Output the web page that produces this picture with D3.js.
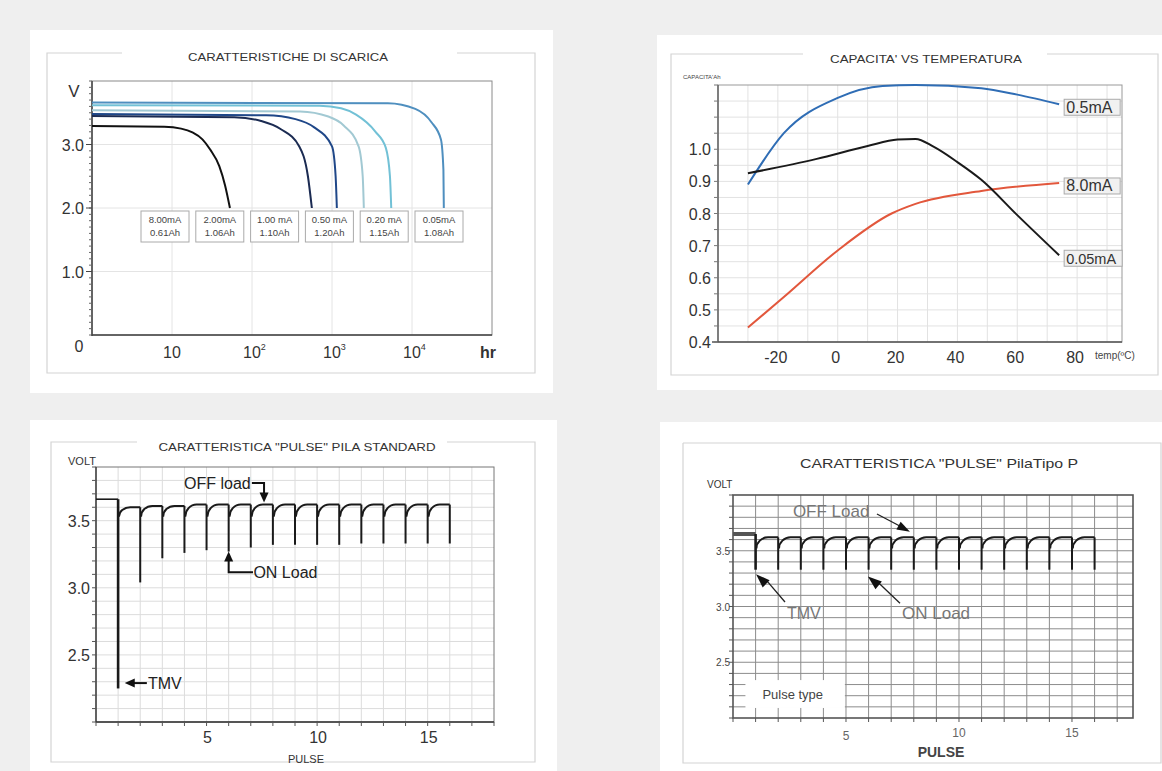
<!DOCTYPE html>
<html>
<head>
<meta charset="utf-8">
<script src="https://d3js.org/d3.v7.min.js"></script>
<title>Caratteristiche pila</title>
<style>
body { margin: 0; background: #efefef; }
svg { display: block; font-family: "Liberation Sans", Arial, sans-serif; }
</style>
</head>
<body>
<svg width="1162" height="771"></svg>
<script>

// ---- top left: discharge curves, [hours, volt] ----
const dischargeCurrent = ["8.00mA", "2.00mA", "1.00 mA", "0.50 mA", "0.20 mA", "0.05mA"];
const dischargeCapacity = ["0.61Ah", "1.06Ah", "1.10Ah", "1.20Ah", "1.15Ah", "1.08Ah"];
const discharge8mA = [[1, 3.29], [8, 3.28], [13, 3.25], [18, 3.19], [24, 3.08], [30, 2.92], [39, 2.66], [46, 2.36], [53, 2.0]];
const discharge2mA = [[1, 3.45], [60, 3.43], [130, 3.37], [230, 3.24], [390, 2.97], [500, 2.5], [560, 2.0]];
const discharge1mA = [[1, 3.48], [150, 3.46], [350, 3.4], [600, 3.27], [1000, 2.97], [1110, 2.5], [1150, 2.0]];
const discharge05mA = [[1, 3.54], [400, 3.52], [900, 3.44], [1400, 3.3], [2150, 2.97], [2420, 2.5], [2500, 2.0]];
const discharge02mA = [[1, 3.62], [700, 3.61], [1300, 3.57], [2000, 3.47], [3500, 3.2], [4700, 2.95], [5300, 2.5], [5500, 2.0]];
const discharge005mA = [[1, 3.66], [5000, 3.65], [11000, 3.56], [17500, 3.35], [23000, 3.08], [24700, 2.6], [25000, 2.0]];
const hourTicks = [10, 100, 1000, 10000];
const hourLabels = ["10", "10", "10", "10"];
const hourPowers = ["", "2", "3", "4"];
const voltTicks1 = [1, 2, 3];

// ---- top right: capacity (Ah) vs temperature (C) ----
const tempTicks = [-20, 0, 20, 40, 60, 80];
const capTicks = [0.4, 0.5, 0.6, 0.7, 0.8, 0.9, 1.0];
const cap05mA = [[-30, 0.89], [-18, 1.05], [0, 1.16], [15, 1.197], [26, 1.2], [48, 1.19], [60, 1.17], [74, 1.14]];
const cap8mA = [[-30, 0.445], [-18, 0.54], [0, 0.685], [18, 0.8], [26, 0.83], [48, 0.87], [74, 0.895]];
const cap005mA = [[-30, 0.925], [-7, 0.97], [10, 1.01], [20, 1.03], [26, 1.032], [32, 1.008], [40, 0.96], [48, 0.905], [60, 0.795], [74, 0.67]];
const capNames = ["0.5mA", "8.0mA", "0.05mA"];

// ---- bottom left: pulse, standard cell (volt per pulse) ----
const stdRest = 3.66;
const stdMin = [2.25, 3.04, 3.22, 3.26, 3.28, 3.27, 3.30, 3.32, 3.32, 3.32, 3.32, 3.33, 3.33, 3.33, 3.33, 3.33];
const stdRecover = [3.53, 3.53, 3.53, 3.53, 3.53, 3.53, 3.53, 3.53, 3.53, 3.53, 3.53, 3.53, 3.53, 3.53, 3.53];
const stdPeak = [3.60, 3.61, 3.61, 3.62, 3.62, 3.62, 3.62, 3.62, 3.62, 3.62, 3.62, 3.62, 3.62, 3.62, 3.62];
const stdVoltTicks = [3.5, 3.0, 2.5];

// ---- bottom right: pulse, type P ----
const typeRest = 3.65;
const typeMin = [3.33, 3.33, 3.33, 3.33, 3.33, 3.33, 3.33, 3.33, 3.33, 3.33, 3.33, 3.33, 3.33, 3.33, 3.33, 3.33];
const typeRecover = [3.52, 3.52, 3.52, 3.52, 3.52, 3.52, 3.52, 3.52, 3.52, 3.52, 3.52, 3.52, 3.52, 3.52, 3.52];
const typePeak = [3.62, 3.62, 3.62, 3.62, 3.62, 3.62, 3.62, 3.62, 3.62, 3.62, 3.62, 3.62, 3.62, 3.62, 3.62];
const pulseTicks = [5, 10, 15];

const svg = d3.select("svg");
svg.append("rect").attr("width", 1162).attr("height", 771).attr("fill", "#efefef");

// white cards
[[30, 30, 523, 363], [657, 35, 505, 355], [30, 420, 527, 351], [660, 422, 502, 349]].forEach(c => {
  svg.append("rect").attr("x", c[0]).attr("y", c[1]).attr("width", c[2]).attr("height", c[3]).attr("fill", "#fff");
});

function frame(x0, y0, x1, y1, gap0, gap1) {
  svg.append("path")
    .attr("d", `M${gap1},${y0}H${x1}V${y1}H${x0}V${y0}H${gap0}`)
    .attr("fill", "none").attr("stroke", "#d4d4d4").attr("stroke-width", 1.2);
}

function title(txt, cx, y, size, len) {
  svg.append("text").attr("x", cx).attr("y", y).attr("text-anchor", "middle")
    .attr("font-size", size).attr("fill", "#333")
    .attr("textLength", len).attr("lengthAdjust", "spacingAndGlyphs").text(txt);
}

function gridLines(g, vals, x, y, vertical, color) {
  g.selectAll(null).data(vals).join("line")
    .attr("x1", d => vertical ? x(d) : x.range()[0])
    .attr("x2", d => vertical ? x(d) : x.range()[1])
    .attr("y1", d => vertical ? y.range()[0] : y(d))
    .attr("y2", d => vertical ? y.range()[1] : y(d))
    .attr("stroke", color).attr("stroke-width", 1);
}

function ticksLeft(g, vals, x, y, len, color) {
  g.selectAll(null).data(vals).join("line")
    .attr("x1", x.range()[0] - len).attr("x2", x.range()[0])
    .attr("y1", d => y(d)).attr("y2", d => y(d))
    .attr("stroke", color).attr("stroke-width", 1);
}

function ticksBottom(g, vals, x, y, len, color) {
  g.selectAll(null).data(vals).join("line")
    .attr("x1", d => x(d)).attr("x2", d => x(d))
    .attr("y1", y.range()[0]).attr("y2", y.range()[0] + len)
    .attr("stroke", color).attr("stroke-width", 1);
}

function arrowHead(g, xt, yt, xf, yf, len, wid) {
  const a = Math.atan2(yt - yf, xt - xf);
  const bx = xt - len * Math.cos(a), by = yt - len * Math.sin(a);
  const nx = -Math.sin(a) * wid / 2, ny = Math.cos(a) * wid / 2;
  g.append("path").attr("d", `M${xt},${yt}L${bx + nx},${by + ny}L${bx - nx},${by - ny}Z`).attr("fill", "#111");
}

// ================= top left =================
frame(47, 53, 535, 373, 122, 457);
title("CARATTERISTICHE DI SCARICA", 288, 61, 11, 200);
const g1 = svg.append("g");
const x1 = d3.scaleLog().domain([1, 1e5]).range([92, 492]);
const y1 = d3.scaleLinear().domain([0, 4]).range([335, 81]);
gridLines(g1, hourTicks, x1, y1, true, "#e4e4e4");
gridLines(g1, voltTicks1, x1, y1, false, "#e4e4e4");
g1.append("rect").attr("x", 92).attr("y", 81).attr("width", 400).attr("height", 254)
  .attr("fill", "none").attr("stroke", "#8a8a8a");
g1.append("line").attr("x1", 92).attr("x2", 92).attr("y1", 81).attr("y2", 336).attr("stroke", "#444").attr("stroke-width", 1.5);
g1.append("line").attr("x1", 91).attr("x2", 492).attr("y1", 335).attr("y2", 335).attr("stroke", "#444").attr("stroke-width", 1.5);
ticksLeft(g1, d3.range(0, 41).map(i => i / 10), x1, y1, 3, "#666");
ticksLeft(g1, voltTicks1, x1, y1, 6, "#444");

const dischargeSeries = [discharge8mA, discharge2mA, discharge1mA, discharge05mA, discharge02mA, discharge005mA];
const dischargeColors = ["#111111", "#1b2b52", "#1f4788", "#a2c9d3", "#72c1d6", "#4f8fbf"];
const line1 = d3.line().x(d => x1(d[0])).y(d => y1(d[1])).curve(d3.curveMonotoneX);
for (let i = dischargeSeries.length - 1; i >= 0; i--) {
  g1.append("path").attr("d", line1(dischargeSeries[i])).attr("fill", "none")
    .attr("stroke", dischargeColors[i]).attr("stroke-width", 2);
}
dischargeCurrent.forEach((c, i) => {
  const bx = 141 + i * 54.8;
  g1.append("rect").attr("x", bx).attr("y", 211).attr("width", 48).attr("height", 31)
    .attr("fill", "#fff").attr("stroke", "#aaa");
  g1.append("text").attr("x", bx + 24).attr("y", 223).attr("text-anchor", "middle")
    .attr("font-size", 9.5).attr("fill", "#444").text(c);
  g1.append("text").attr("x", bx + 24).attr("y", 236).attr("text-anchor", "middle")
    .attr("font-size", 9.5).attr("fill", "#444").text(dischargeCapacity[i]);
});
voltTicks1.forEach(v => {
  g1.append("text").attr("x", 84).attr("y", y1(v) + 6).attr("text-anchor", "end")
    .attr("font-size", 16).attr("fill", "#333").text(v.toFixed(1));
});
g1.append("text").attr("x", 74).attr("y", 97).attr("text-anchor", "middle").attr("font-size", 17).attr("fill", "#333").text("V");
g1.append("text").attr("x", 79).attr("y", y1(0) + 17).attr("text-anchor", "middle").attr("font-size", 16).attr("fill", "#333").text("0");
hourTicks.forEach((h, i) => {
  const t = g1.append("text").attr("x", x1(h) - 9).attr("y", 358).attr("font-size", 16).attr("fill", "#333");
  t.append("tspan").text(hourLabels[i]);
  if (hourPowers[i]) t.append("tspan").attr("font-size", 9).attr("dy", -8).text(hourPowers[i]);
});
g1.append("text").attr("x", 480).attr("y", 358).attr("font-size", 16).attr("font-weight", "bold").attr("fill", "#333").text("hr");

// ================= top right =================
frame(671, 54, 1158, 375, 803, 1047);
title("CAPACITA' VS TEMPERATURA", 926, 63, 11, 192);
const g2 = svg.append("g");
const x2 = d3.scaleLinear().domain([-40, 95]).range([718, 1122]);
const y2 = d3.scaleLinear().domain([0.4, 1.2]).range([342, 85]);
gridLines(g2, d3.range(-30, 91, 10), x2, y2, true, "#e2e2e2");
gridLines(g2, d3.range(9, 24).map(i => i * 0.05), x2, y2, false, "#e2e2e2");
g2.append("rect").attr("x", 718).attr("y", 85).attr("width", 404).attr("height", 257)
  .attr("fill", "none").attr("stroke", "#999");
g2.append("line").attr("x1", 718).attr("x2", 718).attr("y1", 85).attr("y2", 342).attr("stroke", "#555").attr("stroke-width", 1.3);
g2.append("line").attr("x1", 712).attr("x2", 1122).attr("y1", 342).attr("y2", 342).attr("stroke", "#555").attr("stroke-width", 1.3);
ticksLeft(g2, d3.range(8, 25).map(i => i * 0.05), x2, y2, 4, "#777");
const line2 = d3.line().x(d => x2(d[0])).y(d => y2(d[1])).curve(d3.curveMonotoneX);
const capSeries = [cap05mA, cap8mA, cap005mA];
const capColors = ["#2f6db5", "#e2573c", "#1a1a1a"];
capSeries.forEach((s, i) => {
  g2.append("path").attr("d", line2(s)).attr("fill", "none").attr("stroke", capColors[i]).attr("stroke-width", 2);
  const last = s[s.length - 1];
  const fs = i === 2 ? 14.5 : 16;
  const w = i === 2 ? 58 : 56;
  const by = y2(last[1]) + 3;
  g2.append("rect").attr("x", x2(last[0]) + 5).attr("y", by - 8).attr("width", w).attr("height", 16)
    .attr("fill", "#f1f1f1").attr("stroke", "#aaa");
  g2.append("text").attr("x", x2(last[0]) + 7).attr("y", by + 5.5).attr("font-size", fs).attr("fill", "#333").text(capNames[i]);
});
capTicks.forEach(v => {
  g2.append("text").attr("x", 711).attr("y", y2(v) + 6).attr("text-anchor", "end")
    .attr("font-size", 16).attr("fill", "#333").text(v.toFixed(1));
});
tempTicks.forEach(t => {
  g2.append("text").attr("x", x2(t) - 2).attr("y", 363).attr("text-anchor", "middle")
    .attr("font-size", 16).attr("fill", "#333").text(t);
});
g2.append("text").attr("x", 1095).attr("y", 359).attr("font-size", 10).attr("fill", "#444").text("temp(ºC)");
g2.append("text").attr("x", 683).attr("y", 79).attr("font-size", 6).attr("fill", "#444").text("CAPACITA'Ah");

// ================= pulse drawing =================
function drawPulses(g, x, y, rest, mins, recover, peaks, restWidth, restColor) {
  g.append("line").attr("x1", x(0)).attr("x2", x(1)).attr("y1", y(rest)).attr("y2", y(rest))
    .attr("stroke", restColor).attr("stroke-width", restWidth);
  mins.forEach((m, i) => {
    const p = i + 1;
    const top = i === 0 ? rest : peaks[i - 1];
    g.append("line").attr("x1", x(p)).attr("x2", x(p)).attr("y1", y(top)).attr("y2", y(m))
      .attr("stroke", "#1a1a1a").attr("stroke-width", i === 0 ? 2.6 : 2);
  });
  // recovery after each pulse: quarter ellipse, then flat
  peaks.forEach((pk, i) => {
    const p = i + 1;
    const x0 = x(p) + 0.8, y0 = y(recover[i]);
    const xe = x(p + 0.55), ye = y(pk);
    const path = d3.path();
    path.moveTo(x0, y0);
    path.bezierCurveTo(x0, y0 - 0.55 * (y0 - ye), xe - 0.55 * (xe - x0), ye, xe, ye);
    path.lineTo(x(p + 1), y(pk));
    g.append("path").attr("d", path.toString()).attr("fill", "none")
      .attr("stroke", "#1a1a1a").attr("stroke-width", 2);
  });
}

// ================= bottom left =================
frame(51, 442, 535, 762, 137, 447);
title("CARATTERISTICA \"PULSE\" PILA STANDARD", 297, 451, 11, 277);
const g3 = svg.append("g");
const x3 = d3.scaleLinear().domain([0, 18]).range([96, 494]);
const y3 = d3.scaleLinear().domain([2.0, 3.9]).range([722, 467]);
gridLines(g3, d3.range(1, 18), x3, y3, true, "#dcdcdc");
gridLines(g3, d3.range(21, 39).map(i => i / 10), x3, y3, false, "#dcdcdc");
g3.append("rect").attr("x", 96).attr("y", 467).attr("width", 398).attr("height", 255)
  .attr("fill", "none").attr("stroke", "#777");
g3.append("line").attr("x1", 96).attr("x2", 96).attr("y1", 467).attr("y2", 722).attr("stroke", "#333").attr("stroke-width", 1.3);
g3.append("line").attr("x1", 96).attr("x2", 494).attr("y1", 722).attr("y2", 722).attr("stroke", "#333").attr("stroke-width", 1.3);
ticksLeft(g3, d3.range(20, 40).map(i => i / 10), x3, y3, 4, "#555");
ticksBottom(g3, d3.range(0, 19), x3, y3, 4, "#555");
drawPulses(g3, x3, y3, stdRest, stdMin, stdRecover, stdPeak, 1.6, "#1a1a1a");
stdVoltTicks.forEach(v => {
  g3.append("text").attr("x", 90).attr("y", y3(v) + 6).attr("text-anchor", "end")
    .attr("font-size", 16).attr("fill", "#333").text(v.toFixed(1));
});
pulseTicks.forEach(p => {
  g3.append("text").attr("x", x3(p) + 1).attr("y", 743).attr("text-anchor", "middle")
    .attr("font-size", 16).attr("fill", "#333").text(p);
});
g3.append("text").attr("x", 306).attr("y", 763).attr("text-anchor", "middle").attr("font-size", 11).attr("fill", "#333").text("PULSE");
g3.append("text").attr("x", 68).attr("y", 465).attr("font-size", 11).attr("fill", "#333").text("VOLT");
// annotations
g3.append("text").attr("x", x3(7.0)).attr("y", y3(3.735)).attr("text-anchor", "end").attr("font-size", 16).attr("fill", "#222").text("OFF load");
g3.append("path").attr("d", `M${x3(7.05)},${y3(3.78)}H${x3(7.6)}V${y3(3.70)}`).attr("fill", "none").attr("stroke", "#111").attr("stroke-width", 2);
arrowHead(g3, x3(7.6), y3(3.635), x3(7.6), y3(3.75), 10, 9);
g3.append("path").attr("d", `M${x3(6.0)},${y3(3.22)}V${y3(3.115)}H${x3(7.1)}`).attr("fill", "none").attr("stroke", "#111").attr("stroke-width", 2);
arrowHead(g3, x3(6.0), y3(3.27), x3(6.0), y3(3.15), 10, 9);
g3.append("text").attr("x", x3(7.12)).attr("y", y3(3.07)).attr("font-size", 16).attr("fill", "#222").text("ON Load");
g3.append("line").attr("x1", x3(1.6)).attr("x2", x3(2.3)).attr("y1", y3(2.29)).attr("y2", y3(2.29)).attr("stroke", "#111").attr("stroke-width", 2);
arrowHead(g3, x3(1.3), y3(2.29), x3(2.3), y3(2.29), 10, 9);
g3.append("text").attr("x", x3(2.35)).attr("y", y3(2.245)).attr("font-size", 16).attr("fill", "#222").text("TMV");

// ================= bottom right =================
frame(683, 443, 1161, 763, 683, 683);
title("CARATTERISTICA \"PULSE\" PilaTipo P", 939, 468, 13, 278);
const g4 = svg.append("g");
const x4 = d3.scaleLinear().domain([0, 17.7]).range([733, 1133]);
const y4 = d3.scaleLinear().domain([2.0, 4.0]).range([718, 495]);
gridLines(g4, d3.range(1, 18), x4, y4, true, "#8c8c8c");
gridLines(g4, d3.range(21, 40).map(i => i / 10), x4, y4, false, "#8c8c8c");
ticksLeft(g4, d3.range(20, 41).map(i => i / 10), x4, y4, 4, "#555");
ticksBottom(g4, d3.range(0, 18), x4, y4, 4, "#555");
// pulse type note box
g4.append("rect").attr("x", x4(0.55)).attr("y", y4(2.34)).attr("width", x4(4.95) - x4(0.55)).attr("height", y4(2.09) - y4(2.34))
  .attr("fill", "#fff");
g4.append("text").attr("x", x4(1.3)).attr("y", y4(2.17)).attr("font-size", 13).attr("fill", "#444").text("Pulse type");
g4.append("rect").attr("x", 733).attr("y", 495).attr("width", 400).attr("height", 223)
  .attr("fill", "none").attr("stroke", "#555").attr("stroke-width", 1.6);
drawPulses(g4, x4, y4, typeRest, typeMin, typeRecover, typePeak, 4, "#555");
stdVoltTicks.forEach(v => {
  g4.append("text").attr("x", 730).attr("y", y4(v) + 4).attr("text-anchor", "end")
    .attr("font-size", 10).attr("fill", "#444").text(v.toFixed(1));
});
pulseTicks.forEach(p => {
  g4.append("text").attr("x", x4(p)).attr("y", p === 5 ? 740 : 737).attr("text-anchor", "middle")
    .attr("font-size", 12).attr("fill", "#666").text(p);
});
g4.append("text").attr("x", 941).attr("y", 757).attr("text-anchor", "middle").attr("font-size", 14).attr("font-weight", "bold").attr("fill", "#444").text("PULSE");
g4.append("text").attr("x", 707).attr("y", 488).attr("font-size", 10).attr("fill", "#333").text("VOLT");
// annotations
g4.append("text").attr("x", x4(2.65)).attr("y", y4(3.8)).attr("font-size", 17).attr("fill", "#777").text("OFF Load");
g4.append("line").attr("x1", x4(6.37)).attr("y1", y4(3.83)).attr("x2", x4(7.4)).attr("y2", y4(3.72)).attr("stroke", "#222").attr("stroke-width", 1.3);
arrowHead(g4, x4(7.83), y4(3.67), x4(6.37), y4(3.83), 13, 9);
g4.append("line").attr("x1", x4(2.3)).attr("y1", y4(3.04)).attr("x2", x4(1.5)).attr("y2", y4(3.23)).attr("stroke", "#222").attr("stroke-width", 1.3);
arrowHead(g4, x4(1.02), y4(3.29), x4(2.3), y4(3.04), 14, 10);
g4.append("text").attr("x", x4(2.39)).attr("y", y4(2.89)).attr("font-size", 16).attr("fill", "#777").text("TMV");
g4.append("line").attr("x1", x4(7.39)).attr("y1", y4(3.03)).attr("x2", x4(6.45)).attr("y2", y4(3.21)).attr("stroke", "#222").attr("stroke-width", 1.3);
arrowHead(g4, x4(5.97), y4(3.27), x4(7.39), y4(3.03), 14, 10);
g4.append("text").attr("x", x4(7.48)).attr("y", y4(2.89)).attr("font-size", 17).attr("fill", "#777").text("ON Load");

</script>
</body>
</html>
